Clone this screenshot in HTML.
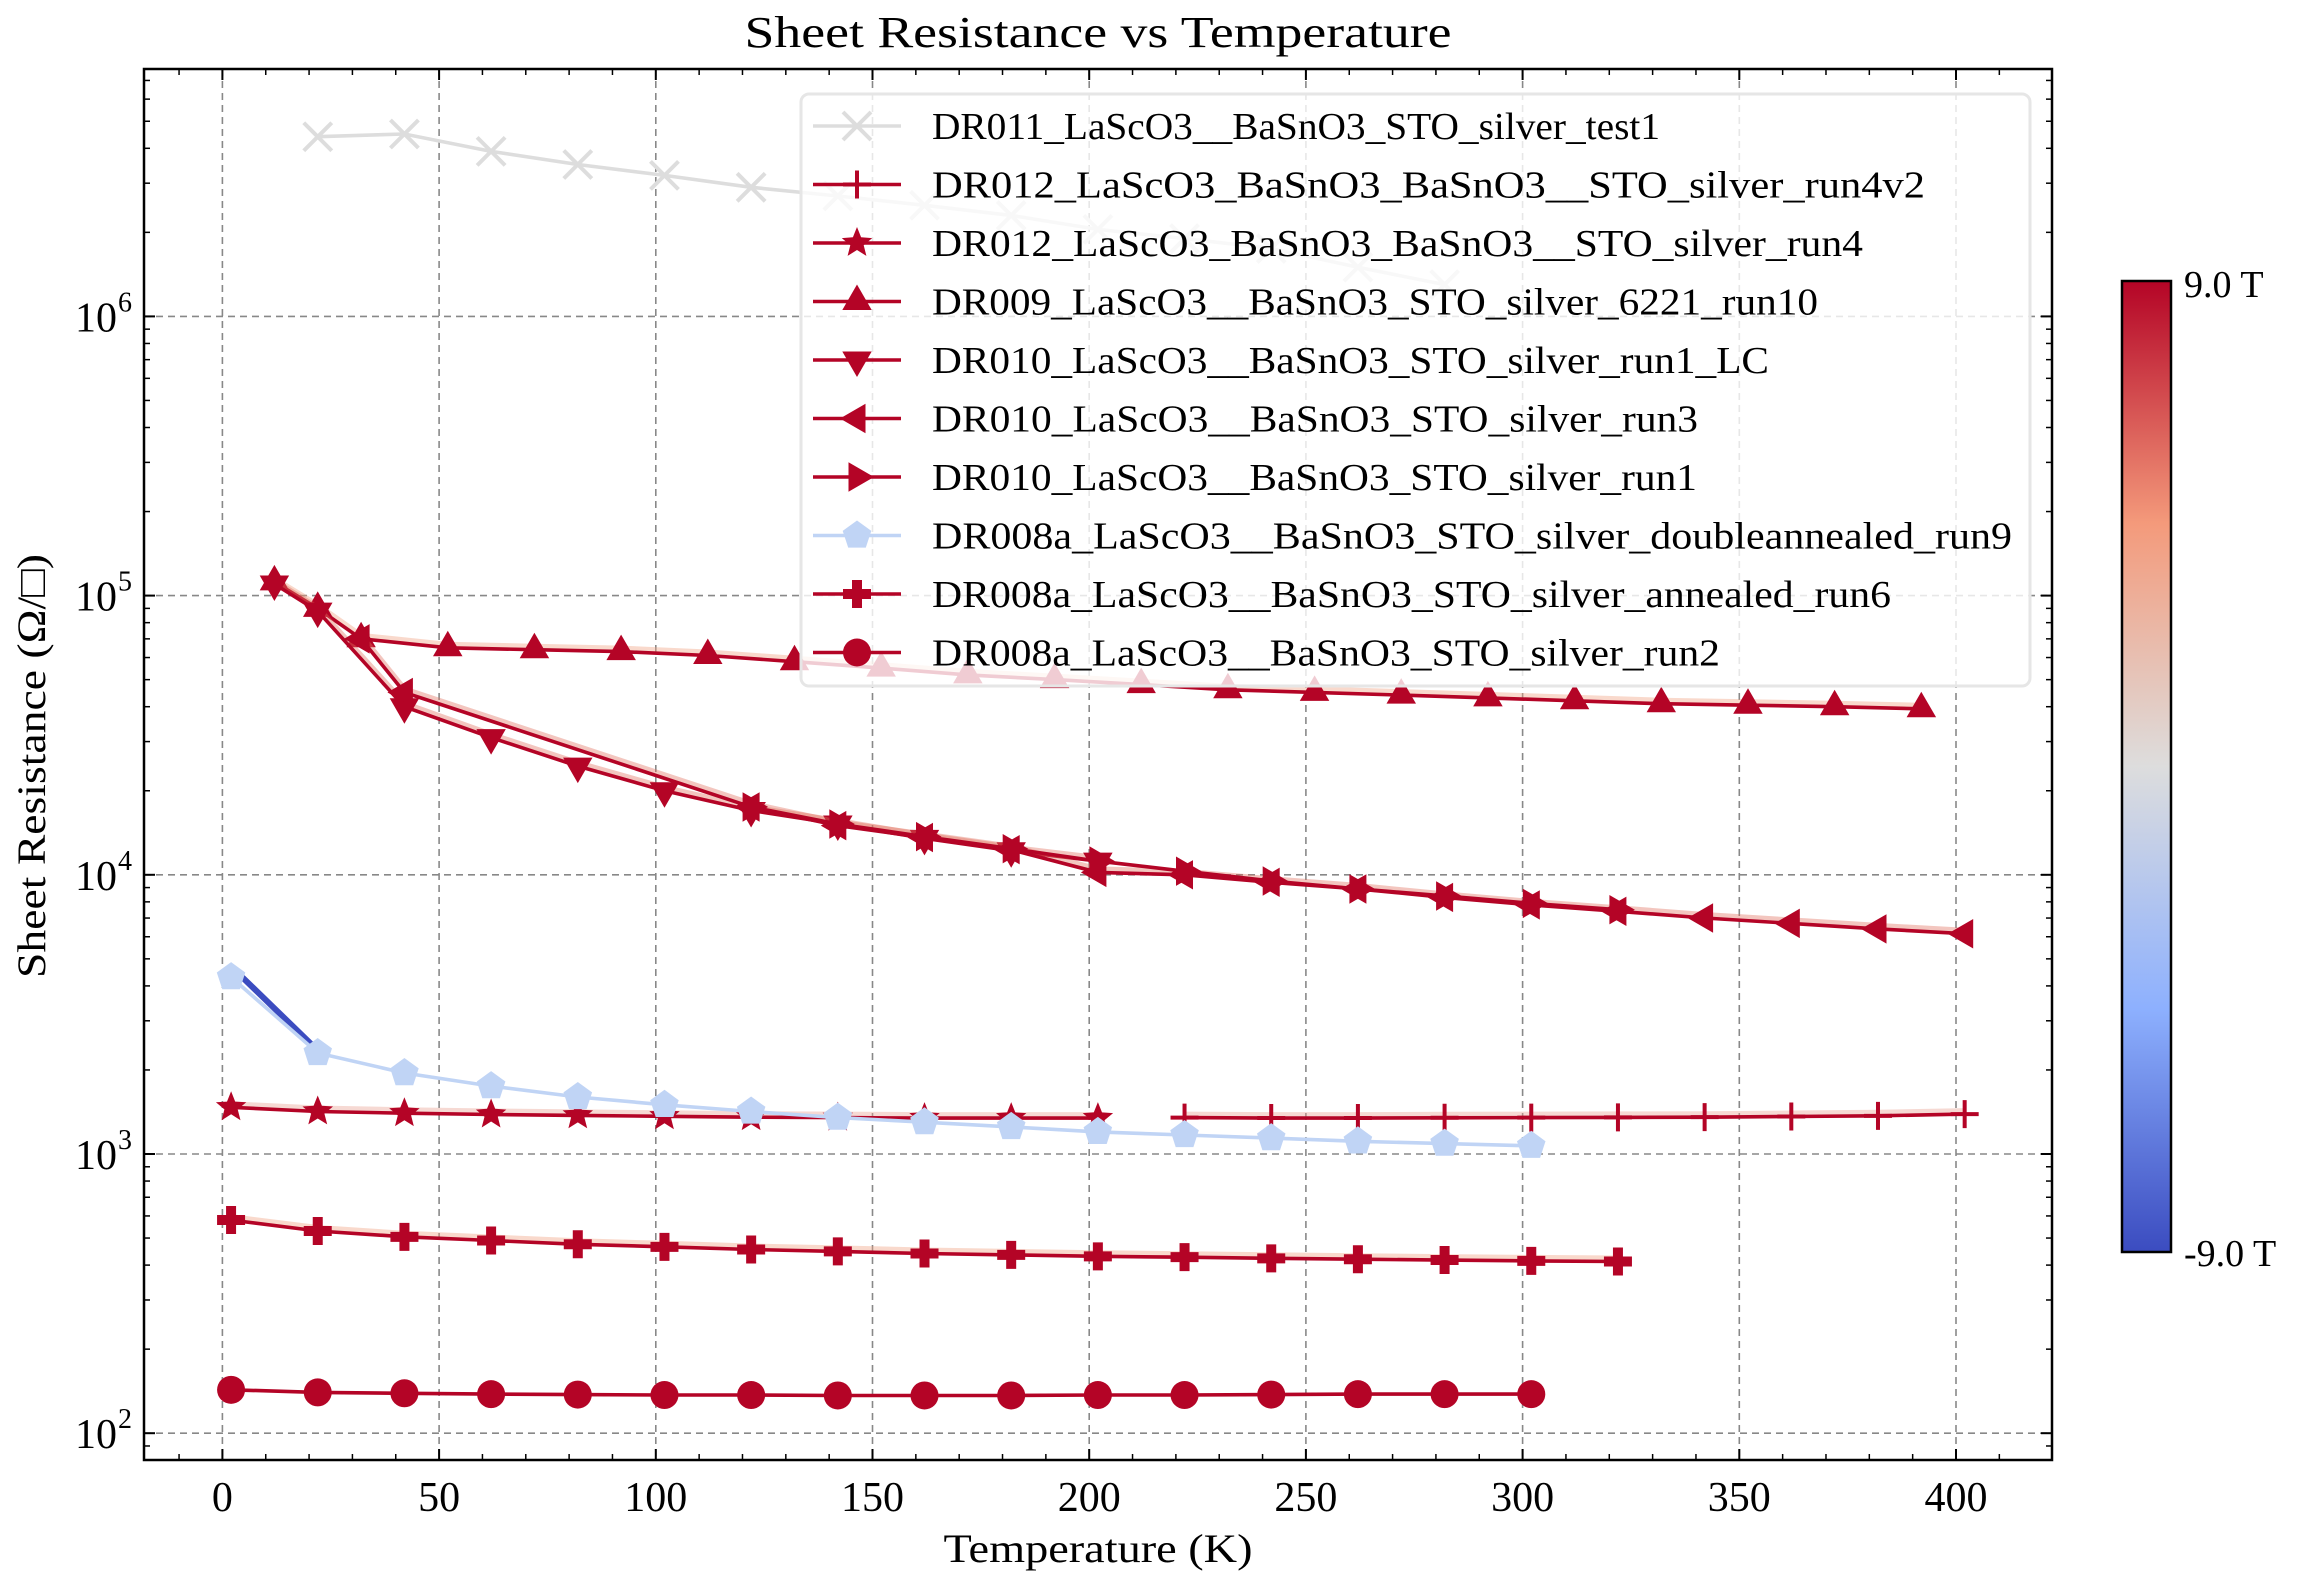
<!DOCTYPE html>
<html><head><meta charset="utf-8"><style>
html,body{margin:0;padding:0;background:#fff}
svg{display:block;font-family:"Liberation Serif","DejaVu Serif",serif}
</style></head><body>
<svg id="chart" width="2310" height="1585" viewBox="0 0 2310 1585" xmlns="http://www.w3.org/2000/svg">
<defs>
<linearGradient id="cbar" x1="0" y1="1" x2="0" y2="0">
<stop offset="0" stop-color="#3b4cc0"/><stop offset="0.25" stop-color="#8db0fe"/><stop offset="0.5" stop-color="#dddddd"/><stop offset="0.75" stop-color="#f49a7b"/><stop offset="1" stop-color="#b40426"/>
</linearGradient>
<clipPath id="plotclip"><rect x="144" y="69" width="1908" height="1391"/></clipPath>
</defs>
<g id="grid"></g>
<g id="series" clip-path="url(#plotclip)"></g>
<g id="legend"></g>
<g id="axes"></g>
<text x="1098" y="47" font-size="44" text-anchor="middle" textLength="707" lengthAdjust="spacingAndGlyphs">Sheet Resistance vs Temperature</text>
<text x="1098" y="1562" font-size="40" text-anchor="middle" textLength="309" lengthAdjust="spacingAndGlyphs">Temperature (K)</text>
<text x="0" y="0" font-size="40" text-anchor="middle" textLength="424" lengthAdjust="spacingAndGlyphs" transform="translate(45,766) rotate(-90)">Sheet Resistance (Ω/□)</text>
<rect x="2122" y="281" width="49" height="971" fill="url(#cbar)" stroke="#000" stroke-width="2.5"/>
<text x="2184" y="297" font-size="38">9.0 T</text>
<text x="2184" y="1266" font-size="38">-9.0 T</text>
</svg>
<script>
const xTicks=[0,50,100,150,200,250,300,350,400];
const yDecades=[2,3,4,5,6];
const names=["DR011_LaScO3__BaSnO3_STO_silver_test1","DR012_LaScO3_BaSnO3_BaSnO3__STO_silver_run4v2","DR012_LaScO3_BaSnO3_BaSnO3__STO_silver_run4","DR009_LaScO3__BaSnO3_STO_silver_6221_run10","DR010_LaScO3__BaSnO3_STO_silver_run1_LC","DR010_LaScO3__BaSnO3_STO_silver_run3","DR010_LaScO3__BaSnO3_STO_silver_run1","DR008a_LaScO3__BaSnO3_STO_silver_doubleannealed_run9","DR008a_LaScO3__BaSnO3_STO_silver_annealed_run6","DR008a_LaScO3__BaSnO3_STO_silver_run2"];
const markers=["x","plus","star","tri-up","tri-down","tri-left","tri-right","pent","pplus","circle"];
const colors=["#dddddd","#b40426","#b40426","#b40426","#b40426","#b40426","#b40426","#c0d4f5","#b40426","#b40426"];
const t0=[22,42,62,82,102,122,142,162,182,202,222,242,262,282];
const r0=[4.4e6,4.5e6,3.9e6,3.5e6,3.2e6,2.9e6,2.7e6,2.5e6,2.3e6,2.05e6,1.9e6,1.75e6,1.5e6,1.3e6];
const t1=[222,242,262,282,302,322,342,362,382,402];
const r1=[1350,1345,1345,1348,1350,1352,1355,1362,1370,1390];
const t2=[2,22,42,62,82,102,122,142,162,182,202];
const r2=[1470,1420,1400,1385,1375,1365,1355,1350,1345,1345,1345];
const t3=[12,22,32,52,72,92,112,132,152,172,192,212,232,252,272,292,312,332,352,372,392];
const r3=[1.12e5,9e4,7e4,6.5e4,6.4e4,6.3e4,6.1e4,5.8e4,5.5e4,5.2e4,5.0e4,4.8e4,4.6e4,4.5e4,4.4e4,4.3e4,4.2e4,4.1e4,4.05e4,4.0e4,3.93e4];
const t4=[12,22,42,62,82,102,122,142,162,182,202];
const r4=[1.1e5,8.8e4,4.0e4,3.1e4,2.45e4,2.0e4,1.7e4,1.52e4,1.35e4,1.22e4,1.12e4];
const t5=[32,42,122,142,162,182,202,222,242,262,282,302,322,342,362,382,402];
const r5=[7e4,4.5e4,1.75e4,1.5e4,1.36e4,1.23e4,1.02e4,1.0e4,9.4e3,8.9e3,8.3e3,7.8e3,7.4e3,7.0e3,6.7e3,6.4e3,6.15e3];
const t6=[122,142,162,182,202,222,242,262,282,302,322];
const r6=[1.75e4,1.52e4,1.37e4,1.24e4,1.12e4,1.03e4,9.5e3,8.9e3,8.4e3,7.9e3,7.5e3];
const t7=[2,22,42,62,82,102,122,142,162,182,202,222,242,262,282,302];
const r7=[4300,2300,1950,1750,1600,1500,1420,1350,1300,1250,1200,1170,1140,1110,1090,1070];
const t8=[2,22,42,62,82,102,122,142,162,182,202,222,242,262,282,302,322];
const r8=[580,530,505,490,475,465,455,448,440,435,430,427,423,420,417,414,412];
const t9=[2,22,42,62,82,102,122,142,162,182,202,222,242,262,282,302];
const r9=[143,140,139,138,137.5,137,137,136.5,136.5,136.5,137,137,137.5,138,138,138];
const legendEnds=[1127,1307,1265,1234,1201,1153,1152,1366,1284,1168];

const NS="http://www.w3.org/2000/svg";
const PL=144,PR=2052,PT=69,PB=1460;
function X(t){return 222.4+t*4.334;}
function Y(v){return 1433.2-(Math.log10(v)-2)*279.2;}
function mk(tag,attrs,parent){const e=document.createElementNS(NS,tag);for(const k in attrs)e.setAttribute(k,attrs[k]);parent.appendChild(e);return e;}
const grid=document.getElementById('grid'),axes=document.getElementById('axes'),ser=document.getElementById('series'),leg=document.getElementById('legend');

xTicks.forEach(t=>{
 const g=mk('line',{x1:X(t),x2:X(t),y1:PT,y2:PB,stroke:'#888',"stroke-width":1.6,"stroke-dasharray":"7,5"},grid);
 
 
 mk('line',{x1:X(t),x2:X(t),y1:PB,y2:PB-11,stroke:'#000',"stroke-width":2},axes);
 mk('line',{x1:X(t),x2:X(t),y1:PT,y2:PT+11,stroke:'#000',"stroke-width":2},axes);
 const l=mk('text',{x:X(t),y:1511,"font-size":42,"text-anchor":"middle"},axes);
 l.textContent=t;
 
 
});
for(let t=-10;t<=410;t+=10){if(t%50===0)continue;const x=X(t);if(x<PL||x>PR)continue;
 mk('line',{x1:x,x2:x,y1:PB,y2:PB-6,stroke:'#000',"stroke-width":1.5},axes);
 mk('line',{x1:x,x2:x,y1:PT,y2:PT+6,stroke:'#000',"stroke-width":1.5},axes);}
yDecades.forEach(d=>{
 const y=Y(Math.pow(10,d));
 const g=mk('line',{x1:PL,x2:PR,y1:y,y2:y,stroke:'#888',"stroke-width":1.6,"stroke-dasharray":"7,5"},grid);
 
 
 mk('line',{x1:PL,x2:PL+11,y1:y,y2:y,stroke:'#000',"stroke-width":2},axes);
 mk('line',{x1:PR,x2:PR-11,y1:y,y2:y,stroke:'#000',"stroke-width":2},axes);
 const l=mk('text',{x:117,y:y+15,"font-size":42,"text-anchor":"end"},axes);
 l.textContent='10';
 
 
 const s=mk('text',{x:118,y:y-5,"font-size":28},axes);s.textContent=d;
});
for(let d=1;d<=6;d++)for(let m=2;m<=9;m++){const y=Y(m*Math.pow(10,d));if(y<PT||y>PB)continue;
 mk('line',{x1:PL,x2:PL+6,y1:y,y2:y,stroke:'#000',"stroke-width":1.5},axes);
 mk('line',{x1:PR,x2:PR-6,y1:y,y2:y,stroke:'#000',"stroke-width":1.5},axes);}
mk('rect',{x:PL,y:PT,width:PR-PL,height:PB-PT,fill:'none',stroke:'#000',"stroke-width":2.5},axes);

function marker(type,x,y,c,parent){
 const s=14;let e;
 switch(type){
  case 'x': e=mk('path',{d:`M${x-s},${y-s}L${x+s},${y+s}M${x-s},${y+s}L${x+s},${y-s}`,stroke:c,"stroke-width":4,fill:'none'},parent);break;
  case 'plus': e=mk('path',{d:`M${x-s},${y}L${x+s},${y}M${x},${y-s}L${x},${y+s}`,stroke:c,"stroke-width":4,fill:'none'},parent);break;
  case 'pplus': e=mk('path',{d:`M${x-14},${y-5}H${x-5}V${y-14}H${x+5}V${y-5}H${x+14}V${y+5}H${x+5}V${y+14}H${x-5}V${y+5}H${x-14}Z`,fill:c},parent);break;
  case 'circle': e=mk('circle',{cx:x,cy:y,r:14,fill:c},parent);break;
  default:{
   let n=3,rot=-90,r=17,inner=null;
   if(type==='tri-down')rot=90; if(type==='tri-left')rot=180; if(type==='tri-right')rot=0;
   if(type==='pent'){n=5;r=15;}
   if(type==='star'){n=5;r=16;inner=7;}
   const pts=[];const tot=inner?2*n:n;
   for(let i=0;i<tot;i++){const rr=inner&&(i%2)?inner:r;const a=(rot+i*360/tot)*Math.PI/180;pts.push((x+rr*Math.cos(a)).toFixed(1)+','+(y+rr*Math.sin(a)).toFixed(1));}
   e=mk('polygon',{points:pts.join(' '),fill:c},parent);
  }
 }
 
 
}
function drawSeries(ts,rs,idx,name,shadow){
 const g=mk('g',{},ser);
 
 
 const d=ts.map((t,i)=>(i?'L':'M')+X(t).toFixed(1)+','+Y(rs[i]).toFixed(1)).join('');
 if(shadow){mk('path',{d:d,fill:'none',stroke:shadow,"stroke-width":6,opacity:0.4,transform:'translate(0,-3)'},g);}
 mk('path',{d:d,fill:'none',stroke:colors[idx],"stroke-width":3.6},g);
 ts.forEach((t,i)=>marker(markers[idx],X(t),Y(rs[i]),colors[idx],g));
}
drawSeries(t0,r0,0,'series-dr011-test1');
drawSeries(t1,r1,1,'series-dr012-run4v2','#e8a090');
drawSeries(t2,r2,2,'series-dr012-run4','#e8a090');
drawSeries(t3,r3,3,'series-dr009-run10','#f0a080');
drawSeries(t4,r4,4,'series-dr010-run1-lc','#e07060');
drawSeries(t5,r5,5,'series-dr010-run3','#e07060');
drawSeries(t6,r6,6,'series-dr010-run1');
mk('path',{d:`M${X(2)},${Y(4700)}L${X(22)},${Y(2350)}`,stroke:'#3b4cc0',"stroke-width":6,fill:'none'},ser);
drawSeries(t7,r7,7,'series-dr008a-doubleannealed-run9');
drawSeries(t8,r8,8,'series-dr008a-annealed-run6','#f0a080');
drawSeries(t9,r9,9,'series-dr008a-run2');

const lb=mk('rect',{x:801,y:94,width:1229,height:592,rx:8,fill:'#fff',"fill-opacity":0.8,stroke:'#e6e6e6',"stroke-width":3},leg);


names.forEach((n,i)=>{
 const y=126+i*58.5;
 const g=mk('g',{},leg);
 
 
 mk('line',{x1:813,x2:901,y1:y,y2:y,stroke:colors[i],"stroke-width":3.6},g);
 marker(markers[i],857,y,colors[i],g);
 const t=mk('text',{x:932,y:y+13,"font-size":38,textLength:(legendEnds[i]*1.473-932).toFixed(0),lengthAdjust:'spacingAndGlyphs'},g);
 t.textContent=n;
});
</script>
</body></html>
